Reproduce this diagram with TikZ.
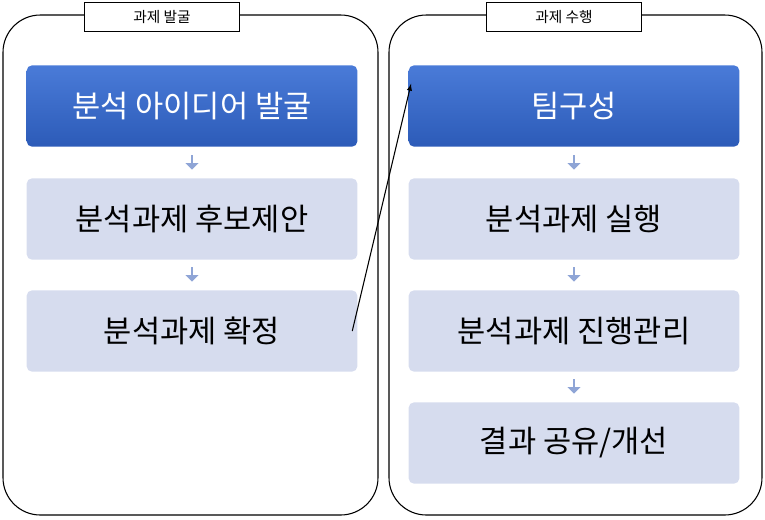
\documentclass[tikz,border=0pt]{standalone}
\usepackage{fontspec}
\setmainfont{Noto Sans CJK KR}
\usetikzlibrary{positioning,shapes.arrows}
\definecolor{topblue}{HTML}{4A7BD8}
\definecolor{botblue}{HTML}{2C5BB8}
\definecolor{paleblue}{HTML}{D6DCEE}
\definecolor{arrowblue}{HTML}{8FA5D6}
\tikzset{
  frame/.style={draw=black, thick, rounded corners=28pt},
  tag/.style={draw=black, fill=white, minimum width=116pt, minimum height=22pt, font=\fontsize{11}{13}\selectfont},
  hot/.style={top color=topblue, bottom color=botblue, text=white, rounded corners=4pt,
    minimum width=248pt, minimum height=61pt, font=\fontsize{23}{26}\selectfont},
  cool/.style={fill=paleblue, rounded corners=4pt,
    minimum width=248pt, minimum height=61pt, font=\fontsize{23}{26}\selectfont},
  down/.style={single arrow, fill=arrowblue, shape border rotate=270, minimum height=11pt,
    minimum width=10pt, single arrow head extend=1.5pt, inner sep=0pt}
}
\begin{document}
\begin{tikzpicture}[x=0.75pt, y=-0.75pt]
  \useasboundingbox (0,0) rectangle (765,519);
  % containers
  \draw[frame] (3,15) rectangle (378,515);
  \draw[frame] (389,15) rectangle (762,515);
  \node[tag] (findtag) at (162,17) {과제 발굴};
  \node[tag] (runtag) at (564,17) {과제 수행};
  % left column
  \node[hot] (idea) at (192,106) {분석 아이디어 발굴};
  \node[cool] (propose) at (192,219) {분석과제 후보제안};
  \node[cool] (fix) at (192,331) {분석과제 확정};
  \node[down] (a1) at (192,162) {};
  \node[down] (a2) at (192,274) {};
  % right column
  \node[hot] (team) at (574,106) {팀구성};
  \node[cool] (exec) at (574,219) {분석과제 실행};
  \node[cool] (manage) at (574,331) {분석과제 진행관리};
  \node[cool] (share) at (574,443) {결과 공유/개선};
  \node[down] (b1) at (574,162) {};
  \node[down] (b2) at (574,274) {};
  \node[down] (b3) at (574,386) {};
  % hand-over
  \draw[-latex, thick] ([xshift=-4pt]fix.east) -- ([xshift=2pt, yshift=-14pt]team.north west);
\end{tikzpicture}
\end{document}
